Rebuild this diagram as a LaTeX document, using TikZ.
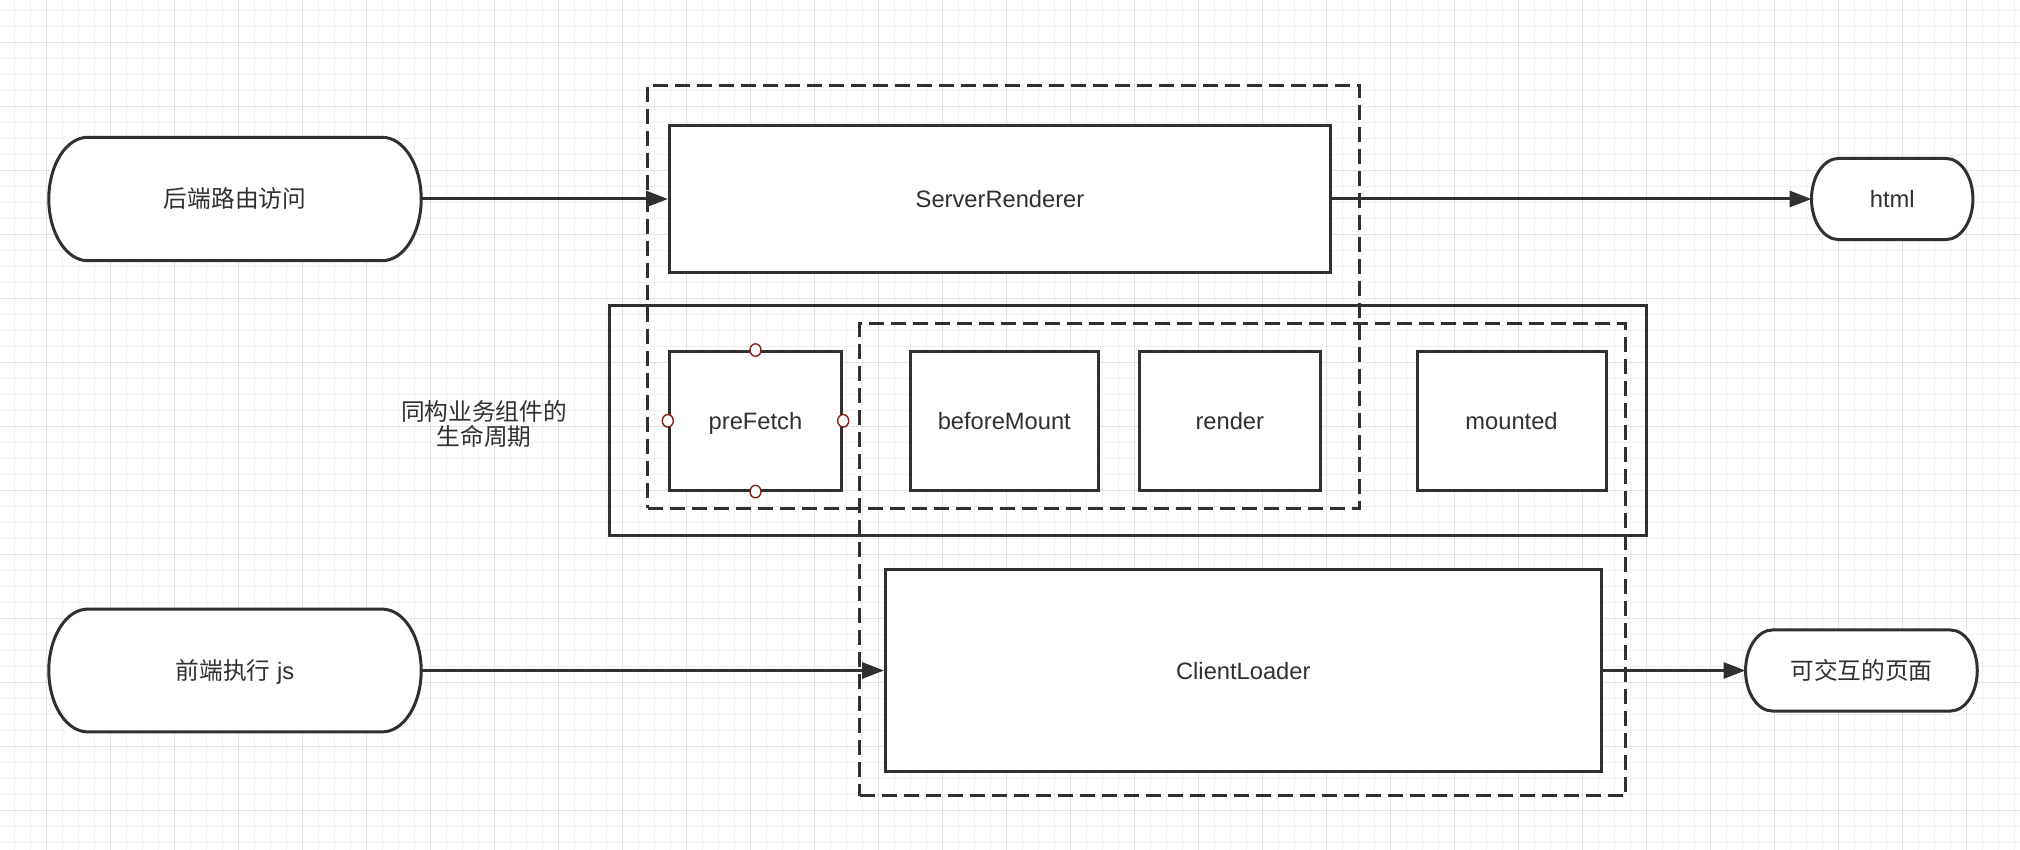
\documentclass[tikz,border=0pt]{standalone}
\usepackage{fontspec}
\setmainfont{Liberation Sans}
\newfontfamily\cjk{Noto Sans CJK SC}
\usetikzlibrary{arrows.meta,calc,shapes.geometric}
\definecolor{ink}{HTML}{303030}
\definecolor{gridminor}{HTML}{F0F0F0}
\definecolor{gridmajor}{HTML}{E2E2E2}
\definecolor{portred}{HTML}{822020}
\pgfdeclarelayer{gridlayer}
\pgfdeclarelayer{pillbg}
\pgfsetlayers{gridlayer,pillbg,main}
\newcommand\pillbg[2]{%
  \begin{pgfonlayer}{pillbg}
  \draw[ln,fill=white] let \p1=(#1.north west), \p2=(#1.south east), \n1={(\y1-\y2)/2} in
    (\x1+#2,\y1) -- (\x2-#2,\y1) arc[start angle=90,end angle=-90,x radius=#2,y radius=\n1]
    -- (\x1+#2,\y2) arc[start angle=270,end angle=90,x radius=#2,y radius=\n1] -- cycle;
  \end{pgfonlayer}}
\begin{document}
\begin{tikzpicture}[x=1pt,y=1pt,
  ln/.style={draw=ink,line width=3pt},
  txt/.style={text=ink,font=\fontsize{23.7}{28}\selectfont,text height=17pt,text depth=0pt},
  box/.style={ln,fill=white,rectangle,inner sep=0pt,txt},
  pill/.style={rectangle,inner sep=0pt,txt},
  frame/.style={ln,rectangle,inner sep=0pt},
  dframe/.style={frame,dash pattern=on 15pt off 7pt},
  arr/.style={ln,-{Triangle[length=22pt,width=16pt]}},
  port/.style={ellipse,draw=portred,fill=white,line width=1.4pt,minimum width=11pt,minimum height=12.5pt,inner sep=0pt},
  minorl/.style={draw=gridminor,line width=1pt},
  majorl/.style={draw=gridmajor,line width=1.2pt}]
\useasboundingbox (0,0) rectangle (2020,-850);
\begin{pgfonlayer}{gridlayer}
  \fill[white] (0,0) rectangle (2020,-850);
  \foreach \i in {0,...,125} {\draw[minorl] (14.7+16*\i,0) -- (14.7+16*\i,-850);}
  \foreach \i in {0,...,52} {\draw[minorl] (0,-10.7-16*\i) -- (2020,-10.7-16*\i);}
  \foreach \i in {0,...,30} {\draw[majorl] (46.7+64*\i,0) -- (46.7+64*\i,-850);}
  \foreach \i in {0,...,12} {\draw[majorl] (0,-42.7-64*\i) -- (2020,-42.7-64*\i);}
\end{pgfonlayer}

% frames
\node[frame,minimum width=1036.3pt,minimum height=229.3pt] (life) at (1127.9,-420.4) {};
\node[dframe,minimum width=712pt,minimum height=422.3pt] (srvgroup) at (1003.5,-296.9) {};
\node[dframe,minimum width=766pt,minimum height=472pt] (cligroup) at (1242.8,-559.5) {};

% pills
\node[pill,minimum width=372pt,minimum height=123pt] (p1) at (235,-199) {\cjk 后端路由访问};
\pillbg{p1}{39pt}
\node[pill,minimum width=372pt,minimum height=122.4pt] (p2) at (235,-670.5) {{\cjk 前端执行} js};
\pillbg{p2}{39pt}
\node[pill,minimum width=161pt,minimum height=80.7pt] (html) at (1892.2,-199) {html};
\pillbg{html}{27pt}
\node[pill,minimum width=231.3pt,minimum height=80.7pt] (page) at (1861.4,-670.5) {\cjk 可交互的页面};
\pillbg{page}{27pt}

% boxes
\node[box,minimum width=661pt,minimum height=146.5pt] (sr) at (1000,-199) {ServerRenderer};
\node[box,minimum width=715.5pt,minimum height=202.4pt] (cl) at (1243.3,-670.5) {ClientLoader};
\node[box,minimum width=172.4pt,minimum height=138.5pt] (pf) at (755.5,-420.8) {preFetch};
\node[box,minimum width=188.5pt,minimum height=138.5pt] (bm) at (1004.3,-420.8) {beforeMount};
\node[box,minimum width=180.5pt,minimum height=138.5pt] (rd) at (1229.8,-420.8) {render};
\node[box,minimum width=189pt,minimum height=138.5pt] (mt) at (1511.5,-420.8) {mounted};

% ports on preFetch
\node[port] (pfn) at (pf.north) {};
\node[port] (pfs) at (pf.south) {};
\node[port] (pfw) at (pf.west) {};
\node[port] (pfe) at (pf.east) {};

% label
\node[text=ink,font=\fontsize{23.7}{25}\selectfont\cjk,align=center,inner sep=0pt] (lbl) at (484,-424) {同构业务组件的\\生命周期};

% connectors
\draw[arr] (p1.east) -- (sr.west);
\draw[arr] (sr.east) -- (html.west);
\draw[arr] (p2.east) -- (cl.west);
\draw[arr] (cl.east) -- (page.west);
\end{tikzpicture}
\end{document}
